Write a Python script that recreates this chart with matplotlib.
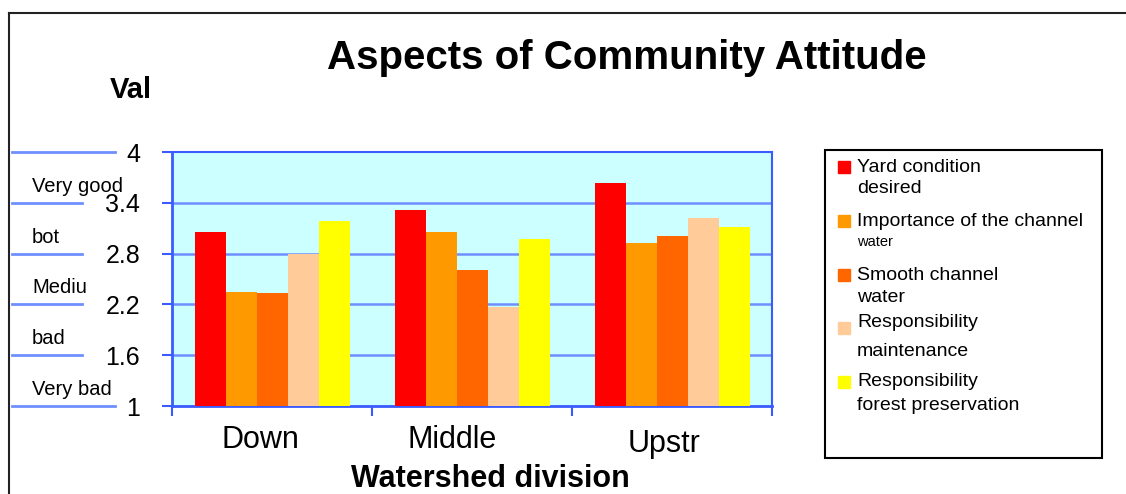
import matplotlib
matplotlib.use("Agg")
import matplotlib.pyplot as plt
import numpy as np
from matplotlib.patches import Rectangle
from matplotlib.lines import Line2D
from matplotlib.transforms import blended_transform_factory, ScaledTranslation

plt.rcParams['font.family'] = ['Liberation Sans', 'DejaVu Sans']

# data
divisions = ["Down", "Middle", "Upstr"]
series_names = ["Yard condition\ndesired",
                "Importance of the channel\nwater",
                "Smooth channel\nwater",
                "Responsibility\nmaintenance",
                "Responsibility\nforest preservation"]
yard_condition = [3.06, 3.32, 3.63]
channel_importance = [2.35, 3.06, 2.92]
smooth_channel = [2.33, 2.61, 3.01]
resp_maintenance = [2.80, 2.17, 3.22]
resp_forest = [3.18, 2.97, 3.11]
series_values = [yard_condition, channel_importance, smooth_channel,
                 resp_maintenance, resp_forest]
y_ticks = [1, 1.6, 2.2, 2.8, 3.4, 4]
y_tick_labels = ["1", "1.6", "2.2", "2.8", "3.4", "4"]
scale_labels = ["Very bad", "bad", "Mediu", "bot", "Very good"]

colors = ["#FF0000", "#FF9900", "#FF6600", "#FFCC99", "#FFFF00"]
blue = "#3A5BFF"
grid_blue = "#6F8FFF"

W, H = 1126, 494
def fx(px):
	return px / W
def fy(py):
	return 1 - py / H

fig = plt.figure(figsize=(W / 100, H / 100), dpi=100)
ax = fig.add_axes([fx(172), fy(406), fx(772) - fx(172), fy(152) - fy(406)])
ax.set_facecolor("#CCFFFF")

x = np.arange(len(divisions))
bw = 0.155
for i, vals in enumerate(series_values):
	ax.bar(x + (i - 2) * bw, np.array(vals) - 1, bottom=1, width=bw,
	       color=colors[i], zorder=3)

ax.set_xlim(-0.5, 2.5)
ax.set_ylim(1, 4)
ax.set_yticks(y_ticks)
ax.set_yticklabels(y_tick_labels, fontsize=18)
for v in y_ticks[1:-1]:
	ax.axhline(v, color=grid_blue, lw=1.8, zorder=1)

ax.set_xticks(x)
ax.set_xticklabels(divisions, fontsize=22)
ax.set_xticks(np.arange(-0.5, 3.0, 1.0), minor=True)
ax.tick_params(axis="x", which="major", length=0, pad=14)
ax.tick_params(axis="x", which="minor", length=7, width=1.5, color=blue, direction="out")
ax.tick_params(axis="y", length=7, width=1.5, color=blue, pad=16)
# category labels sit a little off-centre in the original
shifts = [(-12, 0), (-20, 0), (-8, -4)]
for lab, (dx, dy) in zip(ax.get_xticklabels(), shifts):
	lab.set_transform(lab.get_transform() + ScaledTranslation(dx / 100, dy / 100, fig.dpi_scale_trans))
for s in ax.spines.values():
	s.set_color(blue)
	s.set_linewidth(1.5)
ax.spines["left"].set_linewidth(2)
ax.spines["bottom"].set_linewidth(2)

# scale lines and labels on the left
tr = blended_transform_factory(fig.transFigure, ax.transData)
for v in y_ticks:
	end = 115 if v in (1, 4) else 82
	fig.add_artist(Line2D([fx(12), fx(end)], [v, v], transform=tr,
	                      color=grid_blue, lw=2))
for v, lab in zip(y_ticks[:-1], scale_labels):
	ax.annotate(lab, xy=(fx(32), v), xycoords=tr, xytext=(0, 5),
	            textcoords="offset points", ha="left", va="bottom", fontsize=14.5)

# titles
fig.text(fx(627), fy(58), "Aspects of Community Attitude", fontsize=29,
         fontweight="bold", ha="center", va="center")
fig.text(fx(131), fy(90), "Val", fontsize=21, fontweight="bold",
         ha="center", va="center")
fig.text(fx(490), fy(479), "Watershed division", fontsize=22,
         fontweight="bold", ha="center", va="center")

# outer frame
fig.add_artist(Line2D([fx(9), fx(9)], [fy(13), 0], color="#222222", lw=1.5))
fig.add_artist(Line2D([fx(9), 1], [fy(13), fy(13)], color="#222222", lw=1.5))

# legend
fig.add_artist(Rectangle((fx(825), fy(458)), fx(1102) - fx(825), fy(150) - fy(458),
                         transform=fig.transFigure, fill=False,
                         edgecolor="black", lw=1.5))
first_y = [167, 221, 275, 322, 382]
second_y = [188, 242, 297, 351, 405]
square_y = [167, 221, 275, 328, 382]
second_size = [14, 10.5, 14, 14, 14]
for i, name in enumerate(series_names):
	l1, l2 = name.split("\n")
	fig.add_artist(Rectangle((fx(838), fy(square_y[i] + 6)), 12 / W, 12 / H,
	                         transform=fig.transFigure, color=colors[i]))
	fig.text(fx(857), fy(first_y[i]), l1, fontsize=14, ha="left", va="center")
	fig.text(fx(857), fy(second_y[i]), l2, fontsize=second_size[i],
	         ha="left", va="center")

fig.savefig("out.png", dpi=100)
